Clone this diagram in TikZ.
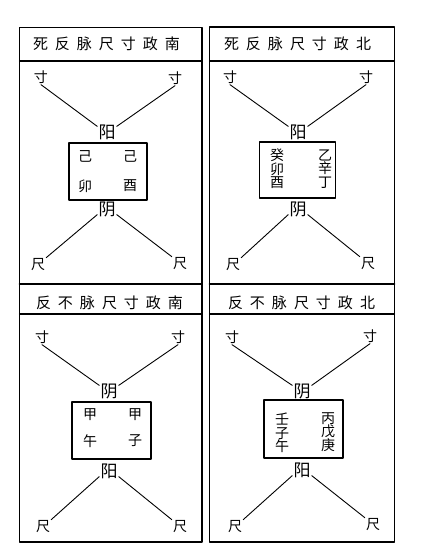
\documentclass[tikz,border=0pt]{standalone}
\usepackage{fontspec}
\setmainfont{Noto Sans CJK SC}
\tikzset{
  zi/.style={inner sep=1pt,font=\fontsize{14}{14}\selectfont},
  yy/.style={inner sep=1pt,font=\fontsize{17}{17}\selectfont},
  kuang/.style={draw,line width=1.3pt,inner sep=0pt},
  shu/.style={inner sep=0pt,align=center,font=\fontsize{14}{13.5}\selectfont},
  tou/.style={inner sep=0pt,font=\fontsize{15}{15}\selectfont},
  xian/.style={line width=0.9pt}
}
\def\jg{\hspace{7pt}}
\begin{document}
\begin{tikzpicture}[x=1pt,y=-1pt,line join=round,line cap=round]
\useasboundingbox (0,0) rectangle (423,555);
% frames
\draw[line width=1.8pt] (19.5,27.5) rectangle (202,542);
\draw[line width=1.8pt] (209.5,27) rectangle (394.5,542);
\draw[line width=1.3pt] (19.5,61)--(202,61) (19.5,314)--(202,314)
  (209.5,61)--(394.5,61) (209.5,314)--(394.5,314);
\draw[line width=1.8pt] (19.5,284)--(202,284) (209.5,284)--(394.5,284);
% top left
\node[tou] (t1) at (106.5,44) {死\jg{}反\jg{}脉\jg{}尺\jg{}寸\jg{}政\jg{}南};
\node[zi] (cl1) at (41,77) {寸};
\node[zi] (cr1) at (175,78) {寸};
\node[yy] (up1) at (107,132) {阳};
\node[kuang,minimum width=78pt,minimum height=57pt] (box1) at (108,171.5) {};
\node[zi] (a1) at (85,156) {己};
\node[zi] (b1) at (130,156) {己};
\node[zi] (c1) at (85,186) {卯};
\node[zi] (d1) at (130,186) {酉};
\node[yy] (dn1) at (107,209) {阴};
\node[zi] (rl1) at (38,265) {尺};
\node[zi] (rr1) at (180,264) {尺};
\draw[xian] (cl1.south)--(up1.150) (cr1.south)--(up1.30)
  (dn1.210)--(rl1.north east) (dn1.330)--(rr1.north west);
% top right
\node[tou] (t2) at (297.5,44) {死\jg{}反\jg{}脉\jg{}尺\jg{}寸\jg{}政\jg{}北};
\node[zi] (cl2) at (230,77) {寸};
\node[zi] (cr2) at (366,77) {寸};
\node[yy] (up2) at (298,132) {阳};
\node[kuang,minimum width=76pt,minimum height=56pt] (box2) at (297.5,170) {};
\node[shu] (a2) at (277,169) {癸\\卯\\酉};
\node[shu] (b2) at (325,169) {乙\\辛\\丁};
\node[yy] (dn2) at (298,209) {阴};
\node[zi] (rl2) at (233,265) {尺};
\node[zi] (rr2) at (368,264) {尺};
\draw[xian] (cl2.south)--(up2.150) (cr2.south)--(up2.30)
  (dn2.210)--(rl2.north east) (dn2.330)--(rr2.north west);
% bottom left
\node[tou] (t3) at (109.5,303) {反\jg{}不\jg{}脉\jg{}尺\jg{}寸\jg{}政\jg{}南};
\node[zi] (cl3) at (42,337) {寸};
\node[zi] (cr3) at (178,337) {寸};
\node[yy] (up3) at (109,391) {阴};
\node[kuang,minimum width=79pt,minimum height=57pt] (box3) at (111.5,430.5) {};
\node[zi] (a3) at (90,415) {甲};
\node[zi] (b3) at (135,415) {甲};
\node[zi] (c3) at (90,441) {午};
\node[zi] (d3) at (135,441) {子};
\node[yy] (dn3) at (109,471) {阳};
\node[zi] (rl3) at (43,527) {尺};
\node[zi] (rr3) at (180,527) {尺};
\draw[xian] (cl3.south)--(up3.150) (cr3.south)--(up3.30)
  (dn3.210)--(rl3.north east) (dn3.330)--(rr3.north west);
% bottom right
\node[tou] (t4) at (301.5,303) {反\jg{}不\jg{}脉\jg{}尺\jg{}寸\jg{}政\jg{}北};
\node[zi] (cl4) at (232,337) {寸};
\node[zi] (cr4) at (370,336) {寸};
\node[yy] (up4) at (302,391) {阴};
\node[kuang,minimum width=79pt,minimum height=58pt] (box4) at (303.5,429) {};
\node[shu] (a4) at (282,433) {壬\\子\\午};
\node[shu] (b4) at (328,432) {丙\\戊\\庚};
\node[yy] (dn4) at (302,470) {阳};
\node[zi] (rl4) at (235,527) {尺};
\node[zi] (rr4) at (373,525) {尺};
\draw[xian] (cl4.south)--(up4.150) (cr4.south)--(up4.30)
  (dn4.210)--(rl4.north east) (dn4.330)--(rr4.north west);
\end{tikzpicture}
\end{document}
